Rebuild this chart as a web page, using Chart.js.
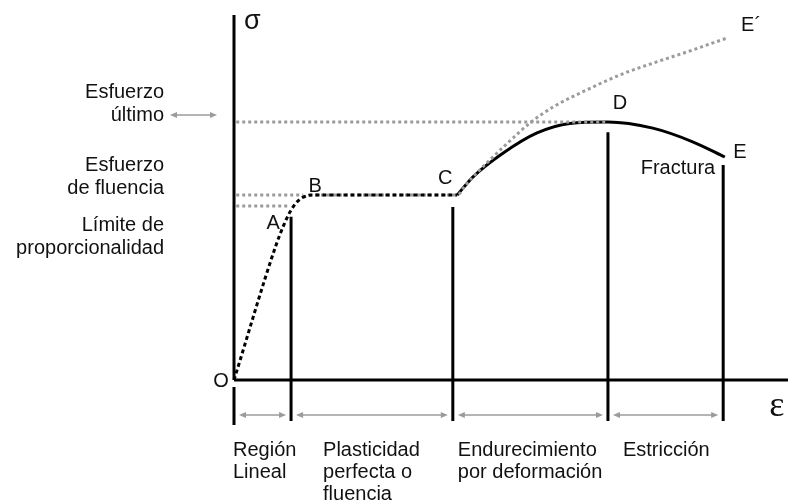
<!DOCTYPE html>
<html>
<head>
<meta charset="utf-8">
<script src="https://cdn.jsdelivr.net/npm/chart.js@4"></script>
<style>
  html, body { margin: 0; padding: 0; background: #fff; }
  #wrap { width: 788px; height: 504px; }
</style>
</head>
<body>
<div id="wrap"><canvas id="myChart"></canvas></div>
<script>
// Diagrama esfuerzo-deformación (unidades arbitrarias)
// tramo O-A-B-C
const strainOC = [0, 7.6, 9.0, 10.1, 11.2, 12.5, 14.1, 40.3];
const stressOC = [0, 37.0, 42.5, 46.0, 48.5, 50.1, 50.7, 50.7];
// endurecimiento y estricción C-D-E
const strainCDE = [40.3, 41.7, 43.1, 48.6, 54.7, 60.6, 67.5, 75.6, 82.9, 88.6];
const stressCDE = [50.7, 53.2, 55.6, 62.2, 67.7, 70.3, 70.7, 69.0, 65.2, 61.1];
// curva real B-C-E'
const strainTrue = [12.5, 14.1, 40.3, 41.7, 43.1, 46.2, 49.8, 53.4, 57.6, 63.7, 69.7, 75.6, 81.8, 89.0];
const stressTrue = [50.1, 50.7, 50.7, 53.2, 55.6, 60.3, 65.5, 70.4, 74.8, 79.5, 83.6, 86.8, 89.9, 93.7];

// niveles de esfuerzo (líneas punteadas)
const levelNames = [['Esfuerzo', 'último'], ['Esfuerzo', 'de fluencia'], ['Límite de', 'proporcionalidad']];
const levelStress = [70.7, 50.7, 47.7];
const levelEnd = [67.5, 12.5, 9.7];

// regiones bajo el eje
const regionNames = [['Región', 'Lineal'], ['Plasticidad', 'perfecta o', 'fluencia'], ['Endurecimiento', 'por deformación'], ['Estricción']];
const regionBounds = [0, 10.3, 39.5, 67.5, 88.3];
const boundTop = [0, 44.7, 47.4, 67.9, 58.9];

// puntos notables
const pointNames = ['O', 'A', 'B', 'C', 'D', 'E', 'E´'];
const pointStrain = [0, 9.4, 12.5, 40.3, 67.5, 88.6, 89.0];
const pointStress = [0, 43.8, 50.1, 50.7, 70.7, 61.1, 93.7];

const xy = (xs, ys) => xs.map((v, i) => ({ x: v, y: ys[i] }));

const black = '#000000';
const gray = '#9b9b9b';

const datasets = [];
// arriba: tramo elástico y fluencia, negro discontinuo
datasets.push({ data: xy(strainOC, stressOC), borderColor: black, borderWidth: 3, borderDash: [4, 3], cubicInterpolationMode: 'monotone' });
// curva real gris punteada
datasets.push({ data: xy(strainTrue, stressTrue), borderColor: gray, borderWidth: 3, borderDash: [3, 3], cubicInterpolationMode: 'monotone' });
levelStress.forEach((s, i) => {
  datasets.push({ data: [{ x: 0.4, y: s }, { x: levelEnd[i], y: s }], borderColor: gray, borderWidth: 3, borderDash: [3, 3] });
});
// curva C-D-E
datasets.push({ data: xy(strainCDE, stressCDE), borderColor: black, borderWidth: 3, cubicInterpolationMode: 'monotone' });
// separadores verticales
regionBounds.forEach((b, i) => {
  if (i === 0) return;
  datasets.push({ data: [{ x: b, y: boundTop[i] }, { x: b, y: -11.2 }], borderColor: black, borderWidth: 3 });
});
// ejes
datasets.push({ data: [{ x: 0, y: 0 }, { x: 0, y: 100 }], borderColor: black, borderWidth: 3 });
datasets.push({ data: [{ x: 0, y: -1.9 }, { x: 0, y: -12.3 }], borderColor: black, borderWidth: 3 });
datasets.push({ data: [{ x: 0, y: 0 }, { x: 100, y: 0 }], borderColor: black, borderWidth: 3 });

datasets.forEach(d => {
  d.showLine = true;
  d.pointRadius = 0;
  d.fill = false;
  d.clip = false;
  d.borderCapStyle = 'butt';
});

const sans = '"Liberation Sans", Arial, sans-serif';

function arrow(ctx, x1, x2, y) {
  ctx.save();
  ctx.strokeStyle = gray;
  ctx.fillStyle = gray;
  ctx.lineWidth = 1.5;
  ctx.beginPath();
  ctx.moveTo(x1 + 4, y);
  ctx.lineTo(x2 - 4, y);
  ctx.stroke();
  [[x1, 1], [x2, -1]].forEach(([px, dir]) => {
    ctx.beginPath();
    ctx.moveTo(px, y);
    ctx.lineTo(px + dir * 7, y - 3);
    ctx.lineTo(px + dir * 7, y + 3);
    ctx.closePath();
    ctx.fill();
  });
  ctx.restore();
}

const overlay = {
  id: 'overlay',
  afterDatasetsDraw(chart) {
    const { ctx, scales: { x, y } } = chart;
    const x0 = x.getPixelForValue(0);
    const y0 = y.getPixelForValue(0);
    ctx.save();
    ctx.fillStyle = '#111';
    ctx.textBaseline = 'alphabetic';

    // etiquetas de niveles a la izquierda
    ctx.font = '20px ' + sans;
    ctx.textAlign = 'right';
    const levelOffsets = [[-24, -1], [-24, -1], [25, 48]];
    levelNames.forEach((lines, i) => {
      const ly = y.getPixelForValue(levelStress[i]);
      lines.forEach((t, j) => ctx.fillText(t, x0 - 70, ly + levelOffsets[i][j]));
    });
    arrow(ctx, x0 - 64, x0 - 17, y.getPixelForValue(levelStress[0]) - 7);

    // regiones
    ctx.textAlign = 'left';
    const regionShift = [-1, 32, 5, 15];
    regionNames.forEach((lines, i) => {
      const rx = x.getPixelForValue(regionBounds[i]) + regionShift[i];
      lines.forEach((t, j) => ctx.fillText(t, rx, y0 + 76 + j * 22));
      const a = x.getPixelForValue(regionBounds[i]) + 5;
      const b = x.getPixelForValue(regionBounds[i + 1]) - 5;
      arrow(ctx, a, b, y0 + 35);
    });

    // puntos notables
    ctx.textAlign = 'center';
    ctx.textBaseline = 'middle';
    const pointOffsets = [[-13, 0], [-13, 2], [12, -12], [-12, -17], [12, -19], [15, -6], [24, -14]];
    pointNames.forEach((t, i) => {
      const px = x.getPixelForValue(pointStrain[i]) + pointOffsets[i][0];
      const py = y.getPixelForValue(pointStress[i]) + pointOffsets[i][1];
      ctx.fillText(t, px, py + 1);
    });
    ctx.textAlign = 'right';
    ctx.fillText('Fractura', x.getPixelForValue(regionBounds[4]) - 8, y.getPixelForValue(pointStress[5]) + 11);

    // símbolos de ejes
    ctx.textBaseline = 'alphabetic';
    ctx.textAlign = 'left';
    ctx.font = '27px ' + sans;
    ctx.fillText('σ', x0 + 10, y.getPixelForValue(100) + 14);
    ctx.font = '36px "Liberation Serif", "Times New Roman", serif';
    ctx.fillText('ε', x.getPixelForValue(96.6), y0 + 36);
    ctx.restore();
  }
};

new Chart(document.getElementById('myChart'), {
  type: 'scatter',
  data: { datasets: datasets },
  options: {
    responsive: true,
    maintainAspectRatio: false,
    animation: false,
    layout: { padding: { left: 234, right: 0, top: 15, bottom: 14.5 } },
    scales: {
      x: { type: 'linear', min: 0, max: 100, display: false },
      y: { type: 'linear', min: -30, max: 100, display: false }
    },
    plugins: {
      legend: { display: false },
      tooltip: { enabled: false }
    }
  },
  plugins: [overlay]
});
</script>
</body>
</html>
